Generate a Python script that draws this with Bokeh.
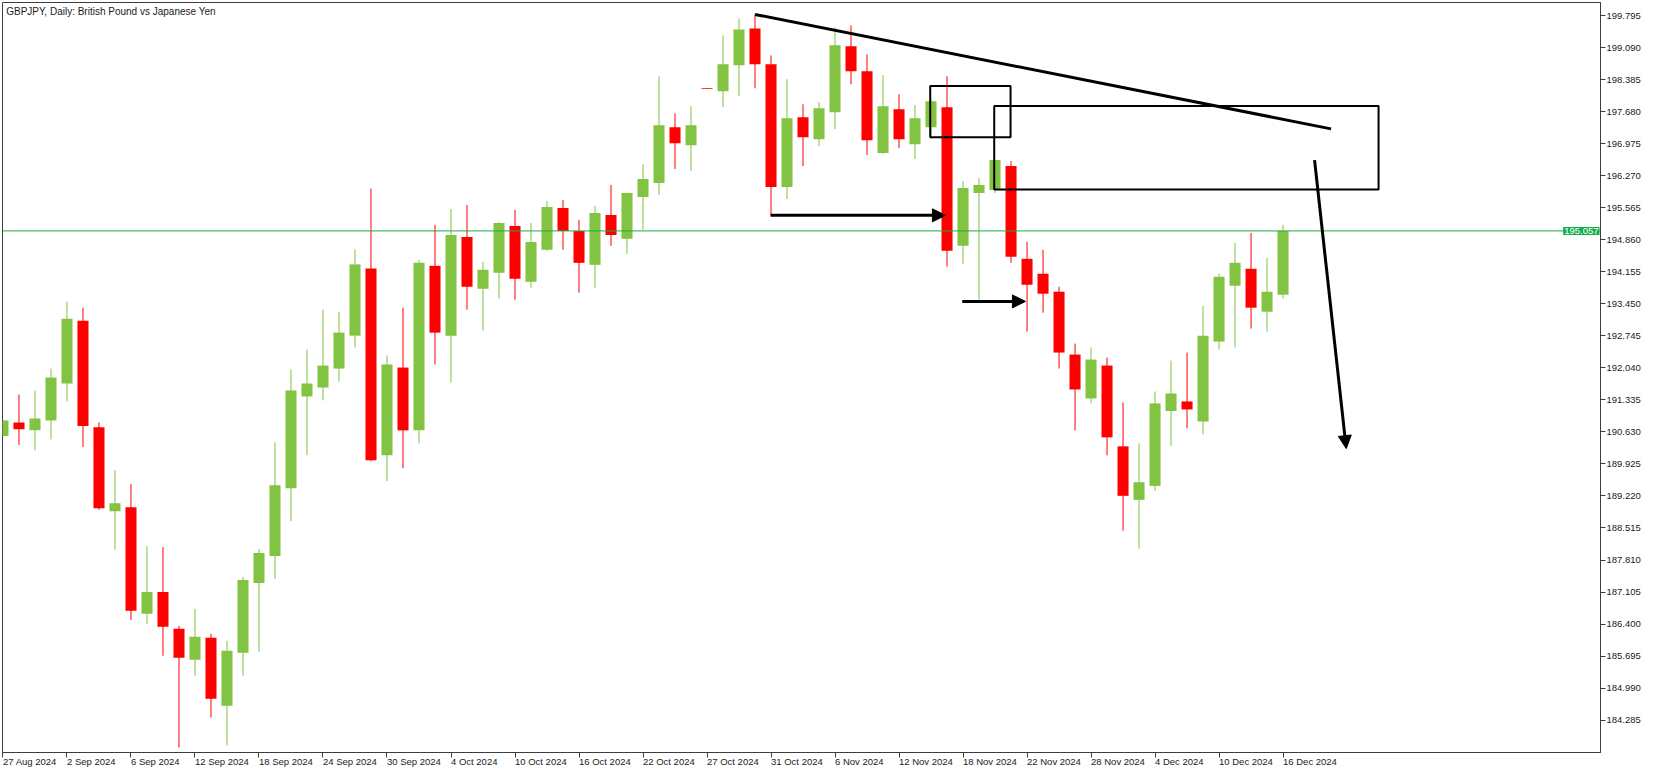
from bokeh.plotting import figure
from bokeh.models import (Range1d, LinearAxis, FixedTicker, Arrow, NormalHead, Label,
                          Span, ColumnDataSource, NumeralTickFormatter)
from bokeh.embed import file_html
from bokeh.resources import INLINE

# ---------------- data (GBPJPY daily, bar index 0 = 27 Aug 2024) ----------------
opens = [190.54, 190.84, 190.665, 190.884, 191.697, 193.08, 190.731, 188.886, 188.974, 186.624,
         187.107, 186.294, 185.613, 186.096, 184.603, 185.767, 187.304, 187.897, 189.391, 191.411,
         191.609, 192.026, 192.751, 194.23, 190.116, 192.048, 190.665, 194.288, 192.751, 194.925,
         193.783, 194.135, 195.167, 193.937, 194.64, 195.562, 195.057, 194.31, 195.409, 194.882,
         195.804, 196.112, 197.342, 196.946, 198.20, 198.132, 198.703, 199.516, 198.725, 196.024,
         197.561, 197.078, 197.671, 199.121, 198.572, 196.771, 197.737, 196.968, 197.342, 197.781,
         194.728, 195.892, 195.958, 196.485, 194.442, 194.113, 193.718, 192.334, 191.367, 192.092,
         190.313, 189.135, 189.442, 191.09, 191.302, 190.862, 192.62, 193.85, 194.223, 193.278,
         193.652]
highs = [190.90, 191.455, 191.543, 192.026, 193.498, 193.366, 190.84, 189.786, 189.479, 188.117,
         188.095, 186.36, 186.733, 186.184, 186.031, 187.436, 188.051, 190.401, 192.004, 192.444,
         193.322, 193.278, 194.65, 195.99, 192.312, 193.366, 194.42, 195.189, 195.54, 195.628,
         194.376, 195.255, 195.518, 195.233, 195.716, 195.738, 195.299, 195.606, 196.068, 195.90,
         196.529, 198.462, 197.649, 197.803, 198.20, 199.362, 199.736, 199.824, 198.923, 198.396,
         197.847, 197.891, 199.538, 199.582, 198.945, 198.484, 198.066, 197.825, 197.95, 198.462,
         196.156, 196.221, 196.62, 196.595, 194.816, 194.64, 193.827, 192.575, 192.488, 192.268,
         191.28, 190.379, 191.521, 192.202, 192.378, 193.41, 194.113, 194.794, 195.014, 194.464,
         195.189]
lows = [190.52, 190.343, 190.225, 190.467, 191.302, 190.299, 188.915, 188.037, 186.492, 186.404,
        185.701, 183.68, 185.262, 184.34, 183.724, 185.262, 185.789, 187.392, 188.666, 190.116,
        191.324, 191.741, 192.488, 189.984, 189.544, 189.83, 190.379, 192.114, 191.719, 193.322,
        192.861, 193.564, 193.542, 193.805, 194.618, 194.64, 193.696, 193.805, 194.728, 194.552,
        195.079, 195.848, 196.419, 196.375, 198.18, 197.781, 198.023, 198.198, 195.409, 195.76,
        196.485, 196.924, 197.298, 198.286, 196.727, 196.75, 196.881, 196.639, 197.078, 194.267,
        194.332, 193.542, 195.892, 194.354, 192.839, 193.256, 192.026, 190.664, 191.257, 190.116,
        188.454, 188.059, 189.332, 190.321, 190.709, 190.577, 192.444, 192.488, 192.905, 192.839,
        193.564]
closes = [190.884, 190.687, 190.928, 191.829, 193.124, 190.76, 188.952, 189.061, 186.69, 187.107,
          186.338, 185.657, 186.118, 184.757, 185.811, 187.37, 187.963, 189.457, 191.543, 191.697,
          192.092, 192.817, 194.32, 190.006, 192.114, 190.665, 194.354, 192.817, 194.969, 193.827,
          194.201, 195.233, 194.003, 194.815, 195.584, 195.057, 194.354, 195.453, 194.969, 195.892,
          196.2, 197.386, 196.99, 197.386, 198.18, 198.725, 199.494, 198.725, 196.024, 197.539,
          197.122, 197.759, 199.143, 198.572, 197.056, 197.803, 197.078, 197.539, 197.913, 194.618,
          196.002, 196.068, 196.617, 194.486, 193.871, 193.674, 192.378, 191.565, 192.224, 190.511,
          189.223, 189.523, 191.258, 191.477, 191.126, 192.751, 194.047, 194.355, 193.366, 193.718,
          195.057]

date_labels = ["27 Aug 2024", "2 Sep 2024", "6 Sep 2024", "12 Sep 2024", "18 Sep 2024",
               "24 Sep 2024", "30 Sep 2024", "4 Oct 2024", "10 Oct 2024", "16 Oct 2024",
               "22 Oct 2024", "27 Oct 2024", "31 Oct 2024", "6 Nov 2024", "12 Nov 2024",
               "18 Nov 2024", "22 Nov 2024", "28 Nov 2024", "4 Dec 2024", "10 Dec 2024",
               "16 Dec 2024"]
date_label_bars = [0, 4, 8, 12, 16, 20, 24, 28, 32, 36, 40, 44, 48, 52, 56, 60, 64, 68, 72, 76, 80]

price_ticks = [184.285, 184.990, 185.695, 186.400, 187.105, 187.810, 188.515, 189.220, 189.925,
               190.630, 191.335, 192.040, 192.745, 193.450, 194.155, 194.860, 195.565, 196.270,
               196.975, 197.680, 198.385, 199.090, 199.795]

current_price = 195.057
title_text = "GBPJPY, Daily:  British Pound vs Japanese Yen"

# drawn objects (bar index, price)
trend_x = [47.0, 83.0]
trend_y = [199.824, 197.304]
rect_left = [57.95, 61.95]
rect_right = [62.97, 85.97]
rect_top = [198.25, 197.81]
rect_bottom = [197.12, 195.97]
arrow_x0 = [47.97, 59.95, 81.97]
arrow_y0 = [195.40, 193.505, 196.617]
arrow_x1 = [58.90, 63.90, 83.95]
arrow_y1 = [195.40, 193.505, 190.263]

# ---------------- figure ----------------
UP = "#82c341"
DOWN = "#ff0000"
FRAME = "#3a3d42"
FONT = "Liberation Sans"
X_END = 99.84

idx = list(range(len(opens)))
colors = [UP if c >= o else DOWN for o, c in zip(opens, closes)]
src = ColumnDataSource(dict(
    x=idx, high=highs, low=lows,
    top=[max(o, c) for o, c in zip(opens, closes)],
    bottom=[min(o, c) for o, c in zip(opens, closes)],
    color=colors))

p = figure(width=1653, height=775, output_backend="svg", toolbar_location=None,
           x_range=Range1d(-0.03, X_END), y_range=Range1d(183.571, 200.087),
           x_axis_location=None, y_axis_location=None,
           min_border_left=2, min_border_top=2, min_border_right=53, min_border_bottom=21)
p.grid.visible = False
p.outline_line_color = FRAME
p.outline_line_width = 1
p.background_fill_color = "white"
p.border_fill_color = "white"

yaxis = LinearAxis(ticker=FixedTicker(ticks=price_ticks),
                   formatter=NumeralTickFormatter(format="0.000"))
xaxis = LinearAxis(ticker=FixedTicker(ticks=date_label_bars),
                   major_label_overrides={b: l for b, l in zip(date_label_bars, date_labels)})
for ax in (yaxis, xaxis):
    ax.axis_line_color = FRAME
    ax.major_tick_line_color = FRAME
    ax.minor_tick_line_color = None
    ax.major_tick_in = 0
    ax.major_tick_out = 5
    ax.major_label_text_font = FONT
    ax.major_label_text_font_size = "9.5px"
    ax.major_label_text_color = "#1a1a1a"
yaxis.major_label_standoff = 1
xaxis.major_label_standoff = 4
# a hair below zero -> labels start at their tick (left aligned), still visually horizontal
xaxis.major_label_orientation = -0.0001
p.add_layout(yaxis, "right")
p.add_layout(xaxis, "below")

# current price line
p.add_layout(Span(location=current_price, dimension="width", line_color="#1faa4a", line_width=1))

# candles
p.segment(x0="x", y0="low", x1="x", y1="high", line_color="color", line_width=1, source=src)
p.vbar(x="x", width=0.69, top="top", bottom="bottom", fill_color="color", line_color=None, source=src)

# drawn objects
p.line(trend_x, trend_y, line_color="black", line_width=3)
p.quad(left=rect_left, right=rect_right, top=rect_top, bottom=rect_bottom,
       fill_color=None, line_color="black", line_width=2)
for x0, y0, x1, y1 in zip(arrow_x0, arrow_y0, arrow_x1, arrow_y1):
    p.add_layout(Arrow(x_start=x0, y_start=y0, x_end=x1, y_end=y1, line_color="black", line_width=3,
                       end=NormalHead(size=13, fill_color="black", line_color="black", line_width=1)))

# title
p.add_layout(Label(x=0.2, y=200.087, y_offset=-3, text=title_text, text_baseline="top",
                   text_font=FONT, text_font_size="10px", text_color="#1a1a1a"))

# current price tag (kept against the right edge of the chart)
p.add_layout(Label(x=X_END, y=current_price, x_offset=-1, text=f"{current_price:.3f}",
                   text_baseline="middle", text_align="right",
                   text_font=FONT, text_font_size="9.5px", text_color="white",
                   background_fill_color="#12b04a", padding=1))

open("out.html", "w").write(file_html(p, INLINE))
